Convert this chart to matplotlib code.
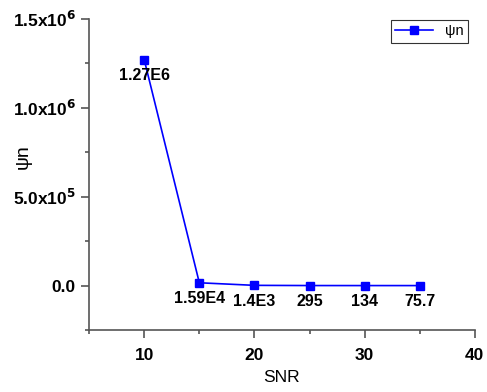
import matplotlib
matplotlib.use("Agg")
import matplotlib.pyplot as plt
from matplotlib.ticker import FixedLocator, FuncFormatter

snr = [10, 15, 20, 25, 30, 35]
psi_n = [1.27e6, 1.59e4, 1.4e3, 295, 134, 75.7]
point_labels = ["1.27E6", "1.59E4", "1.4E3", "295", "134", "75.7"]

plt.rcParams['font.family'] = ['Liberation Sans', 'DejaVu Sans']

fig = plt.figure(figsize=(4.87, 3.92), dpi=100)
ax = fig.add_axes([0.183, 0.158, 0.792, 0.794])

ax.plot(snr, psi_n, color='blue', marker='s', markersize=6, linewidth=1.2, label='ψn')
for x, y, t in zip(snr, psi_n, point_labels):
    ax.annotate(t, (x, y), xytext=(0, -6), textcoords='offset points',
                ha='center', va='top', fontsize=11.5, fontweight='bold')

ax.set_xlim(5, 40)
ax.set_ylim(-2.5e5, 1.5e6)
ax.xaxis.set_major_locator(FixedLocator([10, 20, 30, 40]))
ax.xaxis.set_minor_locator(FixedLocator([5, 15, 25, 35]))
ax.yaxis.set_major_locator(FixedLocator([0, 5e5, 1e6, 1.5e6]))
ax.yaxis.set_minor_locator(FixedLocator([-2.5e5, 2.5e5, 7.5e5, 1.25e6]))


def yfmt(v, pos):
    if v == 0:
        return "0.0"
    exp = 0
    m = v
    while abs(m) >= 10:
        m /= 10
        exp += 1
    return r"%.1fx10$^{\mathbf{%d}}$" % (m, exp)


ax.yaxis.set_major_formatter(FuncFormatter(yfmt))

for s in ['top', 'right']:
    ax.spines[s].set_visible(False)
for s in ['left', 'bottom']:
    ax.spines[s].set_color('#555555')
    ax.spines[s].set_linewidth(1.2)
ax.tick_params(which='major', direction='out', length=6, width=1.2, colors='#555555',
               labelcolor='black', labelsize=12.5)
ax.tick_params(axis='x', which='major', pad=7)
ax.tick_params(which='minor', direction='out', length=3, width=1.2, colors='#555555')
for lbl in ax.get_xticklabels() + ax.get_yticklabels():
    lbl.set_fontweight('bold')

ax.set_xlabel("SNR", fontsize=12.5, va='center')
ax.xaxis.set_label_coords(0.5, -0.154)
ax.set_ylabel("ψn", fontsize=14, va='center')
ax.yaxis.set_label_coords(-0.172, 0.556)

leg = ax.legend(loc='upper right', fontsize=10.5, frameon=True, fancybox=False,
                edgecolor='black', handlelength=2.6, borderpad=0.3,
                bbox_to_anchor=(1.0, 1.02))
leg.get_frame().set_linewidth(0.8)

fig.savefig("out.png", dpi=100)
